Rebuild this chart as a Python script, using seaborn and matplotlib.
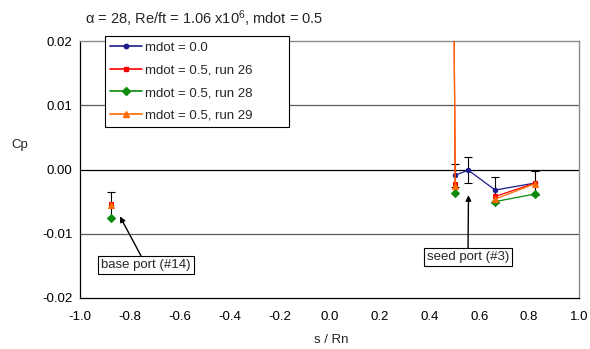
import numpy as np
import pandas as pd
import matplotlib
matplotlib.use("Agg")
import matplotlib.pyplot as plt
from matplotlib.lines import Line2D
from matplotlib.ticker import MultipleLocator, FormatStrFormatter
import seaborn as sns

# ---- data -------------------------------------------------------------
s_ports = [-0.875, 0.494, 0.504, 0.556, 0.664, 0.825]
port_group = ["base", "seed", "seed", "seed", "seed", "seed"]
cp_mdot0 = [-0.0055, np.nan, -0.0009, -0.0001, -0.0032, -0.0021]
cp_mdot0_err = [0.0020, np.nan, 0.0018, 0.0020, 0.0020, 0.0018]
cp_run26 = [-0.0053, 0.05, -0.0022, np.nan, -0.0042, -0.0021]
cp_run28 = [-0.0075, np.nan, -0.0036, np.nan, -0.0050, -0.0038]
cp_run29 = [-0.0055, 0.05, -0.0025, np.nan, -0.0046, -0.0022]
series_labels = ["mdot = 0.0", "mdot = 0.5, run 26", "mdot = 0.5, run 28", "mdot = 0.5, run 29"]
title_text = "\u03b1 = 28, Re/ft = 1.06 x10$^{6}$, mdot = 0.5"

# ---- style ------------------------------------------------------------
sns.set_theme(style="white")
plt.rcParams["font.family"] = ["Liberation Sans", "DejaVu Sans"]
plt.rcParams["mathtext.fontset"] = "custom"
plt.rcParams["mathtext.rm"] = "Liberation Sans"
plt.rcParams["mathtext.it"] = "Liberation Sans"
plt.rcParams["axes.unicode_minus"] = False

FS = 9.5
fig = plt.figure(figsize=(5.9, 3.49), dpi=100)
W, H = 590, 349
ax = fig.add_axes([80 / W, 1 - 298 / H, (579 - 80) / W, (298 - 41) / H])

styles = [
    dict(color="#1c1c8e", marker="o", ms=3.2, lw=0.9),
    dict(color="#ff0000", marker="s", ms=3.4, lw=0.9),
    dict(color="#0b8a0b", marker="D", ms=4.2, lw=0.9),
    dict(color="#ff6a00", marker="^", ms=4.4, lw=0.9),
]
all_series = [cp_mdot0, cp_run26, cp_run28, cp_run29]

# error bars on the mdot = 0 series (drawn underneath)
ax.errorbar(s_ports, cp_mdot0, yerr=cp_mdot0_err, fmt="none", ecolor="black",
            elinewidth=0.8, capsize=2.6, capthick=0.8, zorder=2)

for vals, st in zip(all_series, styles):
    df = pd.DataFrame({"s": s_ports, "cp": vals, "grp": port_group})
    df["seg"] = df["grp"] + df["cp"].isna().cumsum().astype(str)
    df = df.dropna()
    sns.lineplot(data=df, x="s", y="cp", units="seg", estimator=None, sort=False,
                 color=st["color"], marker=st["marker"], markersize=st["ms"],
                 markeredgecolor=st["color"], linewidth=st["lw"], ax=ax,
                 legend=False, zorder=3)

# ---- axes -------------------------------------------------------------
ax.set_xlim(-1.0, 1.0)
ax.set_ylim(-0.02, 0.02)
ax.xaxis.set_major_locator(MultipleLocator(0.2))
ax.xaxis.set_minor_locator(MultipleLocator(0.1))
ax.yaxis.set_major_locator(MultipleLocator(0.01))
ax.yaxis.set_minor_locator(MultipleLocator(0.002))
ax.xaxis.set_major_formatter(FormatStrFormatter("%.1f"))
ax.yaxis.set_major_formatter(FormatStrFormatter("%.2f"))
ax.tick_params(axis="both", which="both", direction="in", length=3, width=0.8,
               color="black", labelsize=FS, labelcolor="black")
ax.tick_params(axis="x", which="major", pad=9)
ax.tick_params(axis="y", which="major", pad=5.5)
ax.set_xlabel("")
ax.set_ylabel("")

for side in ["left", "bottom"]:
    ax.spines[side].set_color("black")
    ax.spines[side].set_linewidth(0.9)
for side in ["top", "right"]:
    ax.spines[side].set_color("#8c8c8c")
    ax.spines[side].set_linewidth(1.0)

for yv in [0.01, -0.01]:
    ax.axhline(yv, color="#5a5a5a", lw=0.9, zorder=1)
ax.axhline(0.0, color="black", lw=0.9, zorder=1)

# ---- annotations --------------------------------------------------------
box = dict(boxstyle="square,pad=0.22", fc="white", ec="black", lw=0.8)
arrow = dict(arrowstyle="-|>", color="black", lw=1.0, mutation_scale=8,
             shrinkA=0, shrinkB=0)
ax.annotate("base port (#14)", xy=(-0.84, -0.0073), xytext=(-0.736, -0.01485),
            ha="center", va="center", fontsize=FS, bbox=box, arrowprops=arrow, zorder=5)
ax.annotate("seed port (#3)", xy=(0.557, -0.0040), xytext=(0.555, -0.01364),
            ha="center", va="center", fontsize=FS, bbox=box, arrowprops=arrow, zorder=5)

# ---- legend -----------------------------------------------------------
handles = [Line2D([0], [0], color=st["color"], marker=st["marker"],
                  markersize=st["ms"], lw=st["lw"] + 0.3) for st in styles]
leg = ax.legend(handles, series_labels, loc="upper left",
                bbox_to_anchor=(25 / 499, 1 + 5 / 257, 184 / 499, 0.0),
                mode="expand", borderaxespad=0, fontsize=FS, frameon=True,
                fancybox=False, edgecolor="black", framealpha=1,
                handlelength=2.4, handletextpad=0.2, labelspacing=0.8,
                borderpad=0.4)
leg.get_frame().set_linewidth(0.8)
leg.set_zorder(6)

# ---- texts ------------------------------------------------------------
fig.text(85 / W, 1 - 19 / H, title_text, fontsize=FS + 1.0, ha="left", va="center")
fig.text(20 / W, 1 - 145 / H, "Cp", fontsize=FS, ha="center", va="center")
fig.text(331 / W, 1 - 340 / H, "s / Rn", fontsize=FS, ha="center", va="center")

fig.savefig("out.png", dpi=100)
